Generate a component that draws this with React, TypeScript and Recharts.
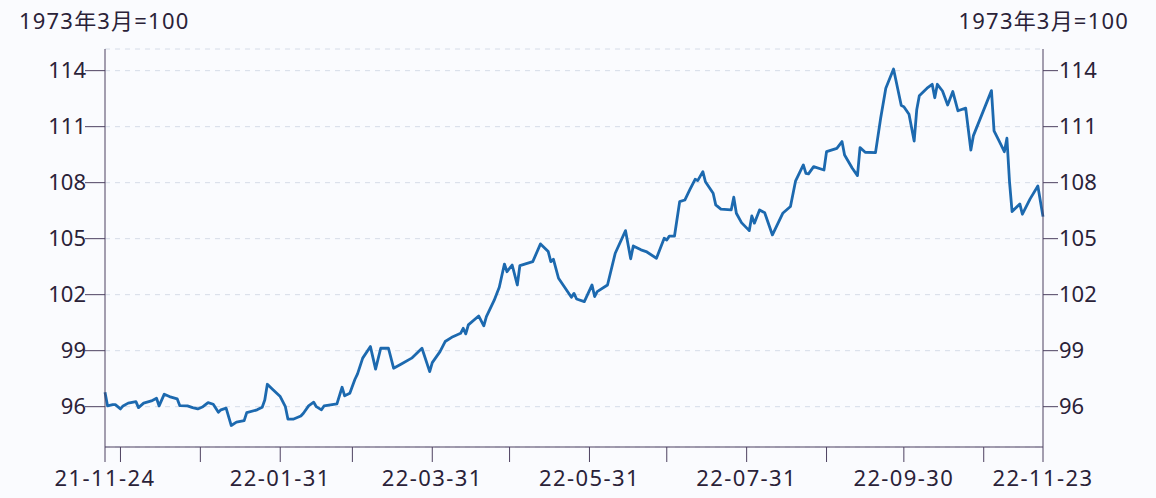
import {
	CartesianGrid,
	Line,
	LineChart,
	XAxis,
	YAxis,
} from "recharts";

// days counted from 2021-11-24
const dayOffsets = [
	0, 1, 3, 4, 6, 7, 9, 12, 13, 15, 18, 20, 21, 23, 25, 28, 29, 32, 34, 36,
	38, 40, 42, 44, 45, 47, 49, 51, 54, 55, 59, 61, 62, 63, 65, 68, 70, 71, 73, 76,
	77, 79, 81, 82, 84, 85, 90, 92, 93, 95, 97, 98, 100, 103, 105, 107, 110, 112, 115, 119,
	123, 126, 127, 130, 132, 135, 138, 139, 140, 141, 145, 147, 148, 151, 153, 155, 156, 158, 160, 161,
	166, 169, 172, 173, 174, 176, 181, 182, 183, 186, 189, 190, 191, 195, 198, 202, 204, 205, 208, 210,
	214, 217, 218, 219, 221, 223, 225, 227, 229, 230, 232, 233, 236, 237, 239, 243, 244, 245, 247, 250,
	251, 252, 254, 256, 259, 263, 266, 268, 271, 272, 273, 275, 279, 280, 284, 286, 287, 290, 292, 293,
	295, 299, 301, 303, 306, 309, 310, 312, 314, 315, 316, 319, 321, 322, 323, 325, 327, 329, 331, 334,
	336, 337, 344, 345, 347, 349, 350, 351, 352, 355, 356, 359, 362, 364,
];

const indexValues = [
	96.77, 96.04, 96.11, 96.11, 95.88, 96.04, 96.19, 96.27, 95.95, 96.19, 96.31, 96.45, 96.04, 96.67, 96.54, 96.42, 96.06, 96.04, 95.95, 95.88,
	96.0, 96.22, 96.13, 95.7, 95.83, 95.92, 94.99, 95.17, 95.25, 95.68, 95.83, 95.97, 96.36, 97.2, 96.93, 96.54, 96.0, 95.33, 95.33, 95.5,
	95.65, 96.04, 96.24, 96.0, 95.83, 96.04, 96.15, 97.04, 96.58, 96.72, 97.47, 97.76, 98.6, 99.22, 98.01, 99.13, 99.13, 98.06, 98.29, 98.6,
	99.13, 97.88, 98.36, 98.95, 99.49, 99.75, 99.93, 100.2, 99.9, 100.38, 100.86, 100.33, 100.82, 101.69, 102.4, 103.64, 103.23, 103.59, 102.52, 103.56,
	103.77, 104.72, 104.31, 103.77, 103.9, 102.88, 101.86, 102.07, 101.77, 101.63, 102.52, 101.9, 102.16, 102.52, 104.22, 105.43, 103.92, 104.61, 104.4, 104.31,
	103.95, 105.02, 104.93, 105.14, 105.14, 106.98, 107.07, 107.64, 108.18, 108.11, 108.59, 108.05, 107.43, 106.81, 106.58, 106.54, 107.22, 106.36, 105.86, 105.43,
	106.22, 105.83, 106.54, 106.39, 105.2, 106.36, 106.72, 108.1, 108.95, 108.5, 108.47, 108.86, 108.68, 109.66, 109.84, 110.2, 109.48, 108.77, 108.38, 109.88,
	109.63, 109.61, 111.45, 113.06, 114.09, 112.13, 112.07, 111.66, 110.23, 111.9, 112.66, 113.06, 113.27, 112.55, 113.27, 112.91, 112.16, 112.88, 111.85, 111.99,
	109.75, 110.52, 112.93, 110.77, 110.23, 109.66, 110.38, 108.06, 106.45, 106.86, 106.31, 107.13, 107.82, 106.18,
];

const yTicks = [96, 99, 102, 105, 108, 111, 114];

const startDate = "2021-11-24";
const tickDates = [
	"2021-11-24", "2021-11-30", "2021-12-31", "2022-01-31", "2022-02-28", "2022-03-31",
	"2022-04-30", "2022-05-31", "2022-06-30", "2022-07-31", "2022-08-31", "2022-09-30",
	"2022-10-31", "2022-11-23",
];
const labelledDates = [
	"2021-11-24", "2022-01-31", "2022-03-31", "2022-05-31", "2022-07-31", "2022-09-30", "2022-11-23",
];

const unitLabel = "1973年3月=100";

const DAY = 24 * 3600 * 1000;
const dayOf = (d: string) => Math.round((Date.parse(d) - Date.parse(startDate)) / DAY);
const tickDays = tickDates.map(dayOf);
const labelByDay: Record<number, string> = {};
labelledDates.forEach((d) => {
	labelByDay[dayOf(d)] = d.slice(2);
});

const data = dayOffsets.map((day, i) => ({ day, value: indexValues[i] }));

const font = "'Noto Sans', 'Noto Sans CJK SC', sans-serif";
const textColor = "#2a2238";
const axisColor = "#4d4160";

export default function App() {
	return (
		<div
			style={{
				position: "absolute",
				left: 0,
				top: 0,
				width: 1156,
				height: 498,
				background: "#fafbfe",
				fontFamily: font,
			}}
		>
			<div
				style={{
					position: "absolute",
					left: 19,
					top: 3,
					fontSize: 22,
					letterSpacing: 1.2,
					color: textColor,
					whiteSpace: "nowrap",
				}}
			>
				{unitLabel}
			</div>
			<div
				style={{
					position: "absolute",
					right: 1156 - 1129,
					top: 3,
					fontSize: 22,
					letterSpacing: 1.2,
					color: textColor,
					whiteSpace: "nowrap",
				}}
			>
				{unitLabel}
			</div>
			<LineChart
				width={1156}
				height={498}
				data={data}
				margin={{ top: 49, right: 0, bottom: 0, left: 0 }}
			>
				<CartesianGrid
					yAxisId='left'
					vertical={false}
					stroke='#d6dce8'
					strokeDasharray='5 5'
				/>
				<XAxis
					dataKey='day'
					type='number'
					domain={[0, 364]}
					ticks={tickDays}
					interval={0}
					height={51}
					tickSize={15}
					tickMargin={8}
					tickFormatter={(v: number) => labelByDay[v] ?? ""}
					stroke={axisColor}
					tick={{ fill: textColor, fontSize: 22, letterSpacing: 1.4, fontFamily: font }}
				/>
				<YAxis
					yAxisId='left'
					orientation='left'
					width={105}
					domain={[93.84, 115.16]}
					ticks={yTicks}
					allowDataOverflow
					tickSize={20}
					tickMargin={-1}
					stroke={axisColor}
					tick={{ fill: textColor, fontSize: 22, fontFamily: font }}
				/>
				<YAxis
					yAxisId='right'
					orientation='right'
					width={113}
					domain={[93.84, 115.16]}
					ticks={yTicks}
					allowDataOverflow
					tickSize={15}
					tickMargin={1}
					stroke={axisColor}
					tick={{ fill: textColor, fontSize: 22, fontFamily: font }}
				/>
				<Line
					yAxisId='left'
					type='linear'
					dataKey='value'
					stroke='#1c69af'
					strokeWidth={2.8}
					strokeLinejoin='round'
					dot={false}
					isAnimationActive={false}
				/>
			</LineChart>
		</div>
	);
}
